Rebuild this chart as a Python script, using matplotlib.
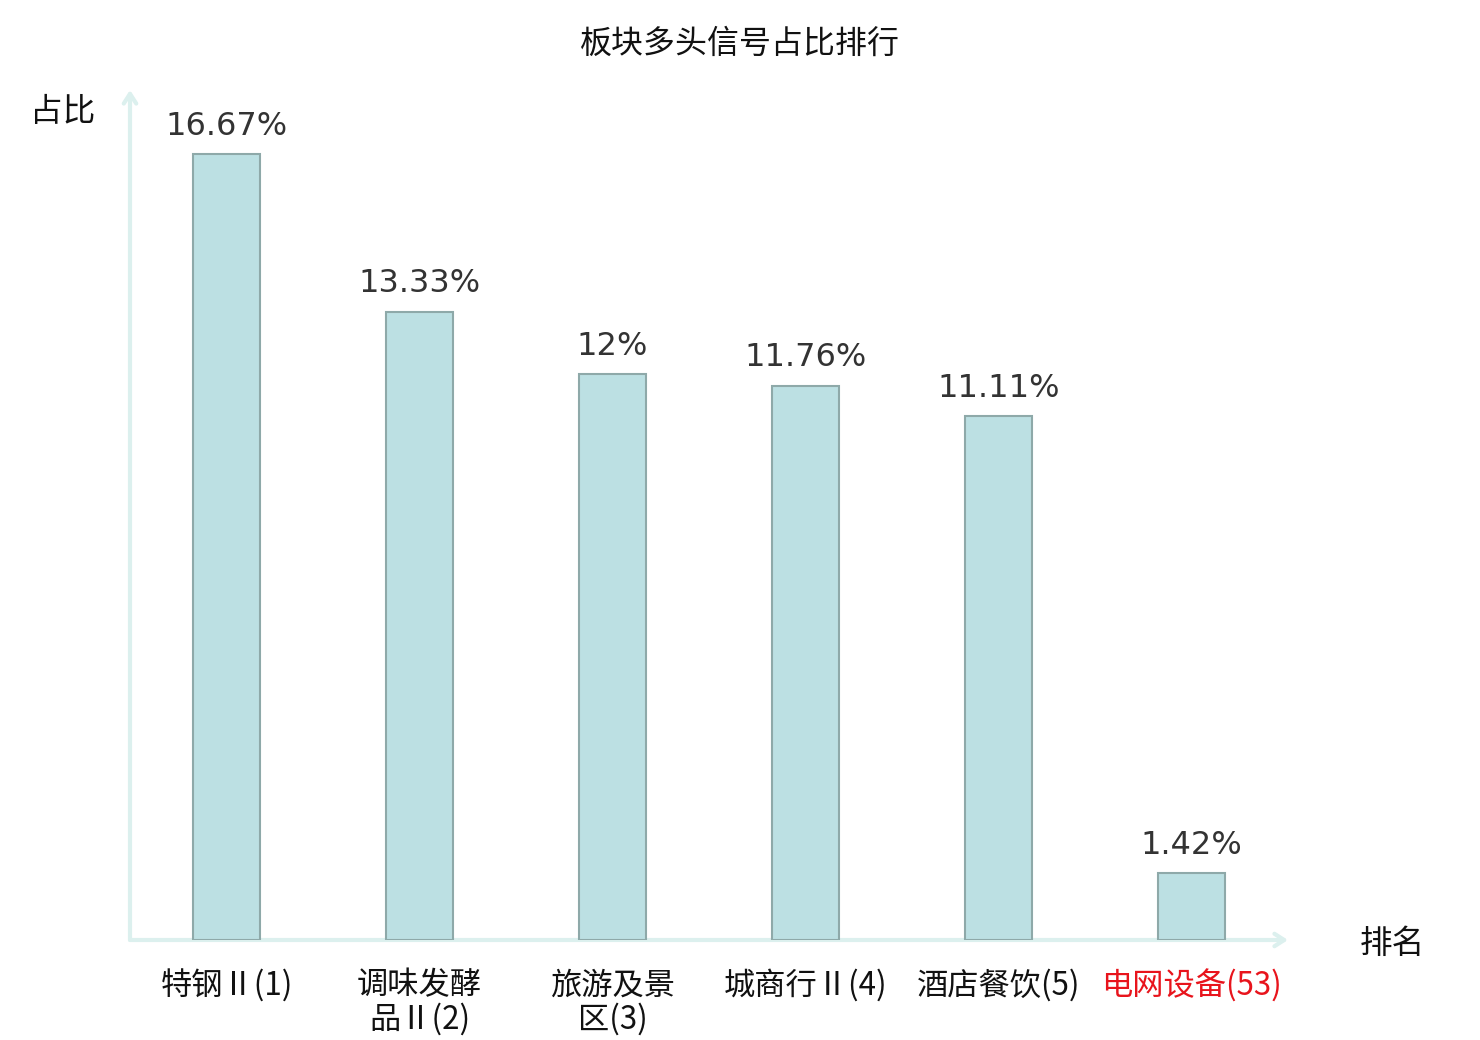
import matplotlib
matplotlib.use("Agg")
import matplotlib.pyplot as plt

categories = ["特钢Ⅱ(1)", "调味发酵\n品Ⅱ(2)", "旅游及景\n区(3)", "城商行Ⅱ(4)", "酒店餐饮(5)", "电网设备(53)"]
values = [16.67, 13.33, 12.0, 11.76, 11.11, 1.42]
value_labels = ["16.67%", "13.33%", "12%", "11.76%", "11.11%", "1.42%"]
label_colors = ["#111111"] * 5 + ["#e8141c"]

W, H = 1480, 1040
fig = plt.figure(figsize=(W / 100, H / 100), dpi=100)
ax = fig.add_axes([130 / W, 100 / H, 1158 / W, 850 / H])

x = list(range(len(categories)))
ax.bar(x, values, width=0.35, color="#bce0e3", edgecolor="#8ea9a9", linewidth=1.5, zorder=3)
ax.set_xlim(-0.5, 5.5)
ax.set_ylim(0, 18.03)

for xi, v, lab in zip(x, values, value_labels):
    ax.annotate(lab, (xi, v), xytext=(0, 9), textcoords="offset points",
                ha="center", va="bottom", fontsize=23, color="#333333",
                family=["DejaVu Sans"])

for s in ax.spines.values():
    s.set_visible(False)
ax.set_yticks([])
ax.set_xticks(x)
ax.set_xticklabels(categories, family=["Noto Sans CJK SC", "DejaVu Sans"], fontsize=22.5, linespacing=1.05)
for t, c in zip(ax.get_xticklabels(), label_colors):
    t.set_color(c)
ax.tick_params(axis="x", length=0, pad=21)

arrow_color = "#dcf0ee"
ax.annotate("", xy=(1.0, 0), xytext=(0, 0), xycoords="axes fraction",
            arrowprops=dict(arrowstyle="->,head_length=0.7,head_width=0.45", lw=3, color=arrow_color,
                            shrinkA=0, shrinkB=0), zorder=2, annotation_clip=False)
ax.annotate("", xy=(0, 1.0), xytext=(0, 0), xycoords="axes fraction",
            arrowprops=dict(arrowstyle="->,head_length=0.7,head_width=0.45", lw=3, color=arrow_color,
                            shrinkA=0, shrinkB=0), zorder=2, annotation_clip=False)

cjk = ["Noto Sans CJK SC", "DejaVu Sans"]
fig.text(740 / W, 1 - 44 / H, "板块多头信号占比排行", ha="center", va="center", fontsize=23, family=cjk, color="#111111")
fig.text(63 / W, 1 - 112 / H, "占比", ha="center", va="center", fontsize=23.5, family=cjk, color="#111111")
fig.text(1392 / W, 1 - 944 / H, "排名", ha="center", va="center", fontsize=23.5, family=cjk, color="#111111")

fig.savefig("out.png", dpi=100)
